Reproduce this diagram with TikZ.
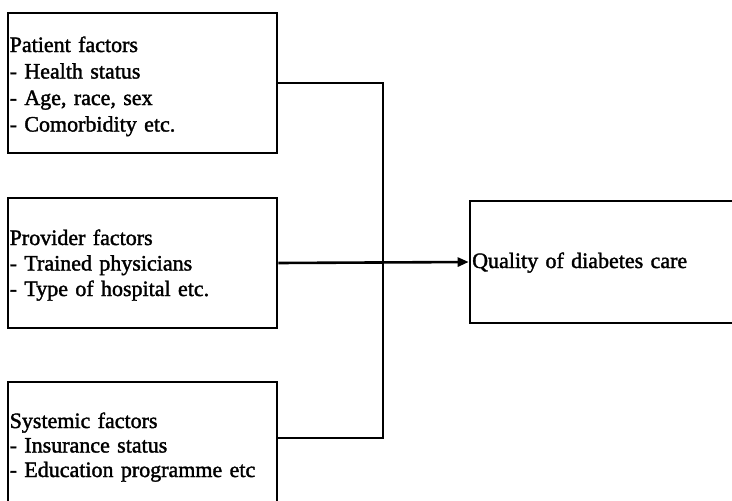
\documentclass[tikz,border=0pt]{standalone}
\usepackage{fontspec}
\setmainfont[FakeBold=1.6]{Liberation Serif}
\usetikzlibrary{arrows.meta}
\begin{document}
\begin{tikzpicture}[x=1pt,y=-1pt,
  factorbox/.style={draw, line width=2.6pt, rectangle, inner sep=0pt},
  boxtext/.style={anchor=base west, align=left, text width=262pt, inner sep=0pt,
                  font=\fontsize{22}{26.5}\selectfont},
  link/.style={line width=2.6pt},
  arrowlink/.style={link, -{Triangle[length=11pt,width=9pt]}},
  ]
\useasboundingbox (0,0) rectangle (732,501);
\clip (0,0) rectangle (732,501);

% factor boxes on the left
\node[factorbox, minimum width=269pt, minimum height=140pt] (patient)  at (142.5,83)  {};
\node[factorbox, minimum width=269pt, minimum height=130pt] (provider) at (142.5,263) {};
\node[factorbox, minimum width=269pt, minimum height=138pt] (systemic) at (142.5,451) {};
% outcome box on the right
\node[factorbox, minimum width=280pt, minimum height=122pt] (quality)  at (610,262)  {};

% box texts
\node[boxtext] (patienttext) at (9.5,52)
  {Patient factors\\- Health status\\- Age, race, sex\\- Comorbidity etc.};
\node[boxtext, font=\fontsize{22}{25.5}\selectfont] (providertext) at (9.5,245)
  {Provider factors\\- Trained physicians\\- Type of hospital etc.};
\node[boxtext, font=\fontsize{22}{24.5}\selectfont] (systemictext) at (9.5,428)
  {Systemic factors\\- Insurance status\\- Education programme etc};
\node[boxtext] (qualitytext) at (472,268) {Quality of diabetes care};

% connectors
\coordinate (bus) at (383,0);
\coordinate (systemicout) at (277,438);
\draw[link] (patient.east) -| (bus |- systemicout) -- (systemicout);
\draw[arrowlink] (provider.east) -- (quality.west);
\end{tikzpicture}
\end{document}
